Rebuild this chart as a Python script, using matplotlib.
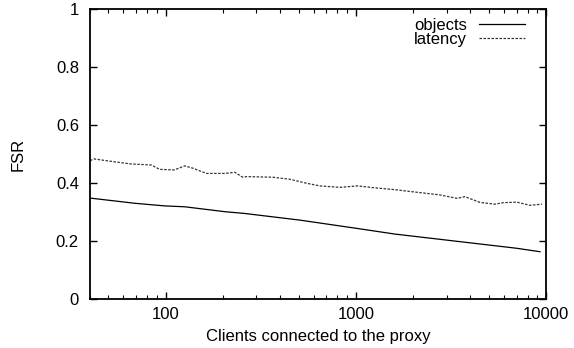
import matplotlib
matplotlib.use("Agg")
import numpy as np
from matplotlib import pyplot as plt
from matplotlib.ticker import LogLocator, FixedLocator, NullFormatter

# values
objects_x = [40, 69, 99, 126, 205, 260, 508, 1000, 1600, 7000, 9300]
objects_y = [0.348, 0.330, 0.321, 0.318, 0.301, 0.295, 0.272, 0.244, 0.224, 0.175, 0.163]

latency_x = [40, 42, 54, 65, 84, 93, 111, 126, 139, 164, 205, 231, 254, 267,
             365, 449, 552, 647, 824, 1025, 1228, 1663, 1855, 2766, 3403, 3748,
             4496, 5391, 5944, 7035, 8236, 9520]
latency_y = [0.477, 0.483, 0.473, 0.466, 0.462, 0.447, 0.445, 0.459, 0.451, 0.433,
             0.433, 0.437, 0.420, 0.422, 0.420, 0.413, 0.399, 0.390, 0.385, 0.390,
             0.384, 0.376, 0.372, 0.359, 0.347, 0.353, 0.333, 0.327, 0.332, 0.334,
             0.323, 0.327]

y_ticks = [0, 0.2, 0.4, 0.6, 0.8, 1.0]
y_tick_labels = ["0", "0.2", "0.4", "0.6", "0.8", "1"]
x_ticks = [100, 1000, 10000]
x_tick_labels = ["100", "1000", "10000"]

plt.rcParams["font.family"] = ["Liberation Sans", "DejaVu Sans"]
fs = 12

fig = plt.figure(figsize=(5.74, 3.48), dpi=100)
ax = fig.add_axes([90 / 574, 49 / 348, 456 / 574, 290 / 348])

ax.plot(objects_x, objects_y, color="black", linewidth=0.9, label="objects")
ax.plot(latency_x, latency_y, color="#333333", linewidth=0.9,
        linestyle=(0, (2.0, 1.2)), label="latency")

ax.set_xscale("log")
ax.set_xlim(40, 10000)
ax.set_ylim(0, 1)

ax.xaxis.set_major_locator(FixedLocator(x_ticks))
ax.set_xticklabels(x_tick_labels)
ax.xaxis.set_minor_locator(LogLocator(base=10, subs=np.arange(2, 10)))
ax.xaxis.set_minor_formatter(NullFormatter())
ax.set_yticks(y_ticks)
ax.set_yticklabels(y_tick_labels)

ax.tick_params(which="both", direction="in", top=True, right=True,
               labelsize=fs, color="black")
ax.tick_params(which="major", length=5, width=1)
ax.tick_params(axis="y", which="major", pad=8)
ax.tick_params(axis="x", which="major", pad=6)
ax.tick_params(which="minor", length=3, width=0.8)

for spine in ax.spines.values():
    spine.set_linewidth(1.3)

ax.set_xlabel("Clients connected to the proxy", fontsize=fs, va="center")
ax.xaxis.set_label_coords(0.5, -0.131)
ax.set_ylabel("FSR", fontsize=fs, va="center")
ax.yaxis.set_label_coords(-0.158, 0.5)

ax.legend(loc="upper right", bbox_to_anchor=(0.969, 0.992), frameon=False,
          markerfirst=False, fontsize=fs, handlelength=2.8,
          handletextpad=0.7, labelspacing=-0.08, borderaxespad=0)

fig.savefig("out.png", dpi=100)
